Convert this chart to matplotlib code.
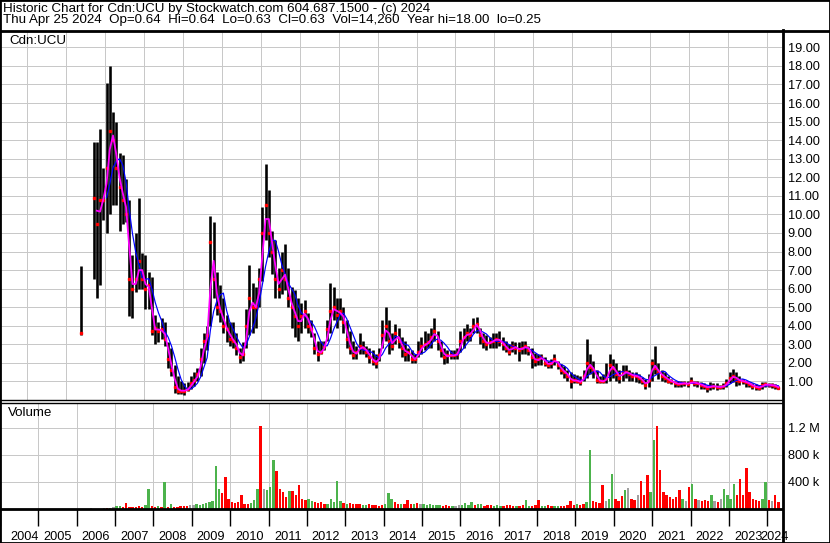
import matplotlib
matplotlib.use("Agg")
import matplotlib.pyplot as plt
from matplotlib.lines import Line2D
from matplotlib.patches import Rectangle
import numpy as np
import pandas as pd

nan = np.nan

# Monthly bars, May 2006 .. Apr 2024
first_month = "2006-05"
last_month = "2024-04"

high = [
    # 2006 May-Dec
    7.2, nan, nan, nan, 13.9, 13.9, 14.6, 12.5,
    # 2007
    17.1, 18.0, 15.5, 15.0, 13.3, 13.2, 11.9, 10.8, 7.8, 9.0, 10.9, 7.9,
    # 2008
    7.8, 6.9, 6.6, 4.6, 4.2, 4.4, 4.2, 3.1, 2.8, 1.9, 1.3, 1.05,
    # 2009
    0.9, 0.95, 1.3, 1.5, 1.7, 2.8, 3.6, 4.0, 9.9, 9.6, 6.9, 6.2,
    # 2010
    5.5, 4.6, 4.2, 4.2, 3.6, 2.8, 3.1, 4.9, 7.3, 6.3, 6.1, 7.1,
    # 2011
    10.4, 12.7, 11.3, 9.1, 8.6, 7.1, 8.0, 8.4, 7.1, 6.1, 5.9, 5.5,
    # 2012
    5.2, 5.4, 4.7, 4.3, 3.6, 3.2, 3.2, 3.2, 4.3, 6.3, 6.1, 5.5,
    # 2013
    5.5, 5.0, 4.3, 3.7, 3.2, 2.9, 3.6, 3.2, 2.9, 2.8, 2.7, 2.5,
    # 2014
    2.8, 4.3, 5.0, 4.3, 3.6, 4.1, 3.9, 3.4, 3.2, 2.8, 2.7, 2.5,
    # 2015
    3.2, 3.4, 3.7, 3.6, 3.9, 4.4, 3.7, 3.2, 2.8, 2.7, 2.7, 2.7,
    # 2016
    2.8, 3.7, 3.9, 4.1, 3.9, 4.4, 4.45, 3.9, 3.6, 3.5, 3.4, 3.6,
    # 2017
    3.6, 3.7, 3.4, 3.2, 3.0, 3.2, 3.1, 3.1, 3.2, 3.2, 2.9, 2.8,
    # 2018
    2.55, 2.5, 2.5, 2.3, 2.1, 2.2, 2.5, 2.1, 1.95, 1.85, 1.6, 1.5,
    # 2019
    1.4, 1.35, 1.3, 1.6, 3.3, 2.5, 2.1, 1.6, 1.3, 1.4, 2.0, 2.5,
    # 2020
    2.2, 2.0, 1.6, 1.9, 1.9, 1.6, 1.5, 1.5, 1.4, 1.25, 1.15, 1.4,
    # 2021
    2.2, 2.9, 2.0, 1.6, 1.5, 1.3, 1.15, 1.05, 1.05, 1.05, 1.05, 1.05,
    # 2022
    1.25, 1.05, 1.05, 0.95, 0.9, 0.8, 0.95, 0.9, 0.9, 0.8, 0.9, 1.15,
    # 2023
    1.5, 1.65, 1.5, 1.3, 1.15, 1.05, 0.95, 0.9, 0.85, 0.8, 0.95, 0.95,
    # 2024 Jan-Apr
    0.9, 0.9, 0.85, 0.75,
]

low = [
    3.5, nan, nan, nan, 6.5, 5.5, 6.2, 9.7,
    9.0, 10.0, 10.5, 10.5, 9.1, 9.5, 9.6, 4.5, 4.4, 5.8, 6.0, 6.0,
    4.9, 4.9, 3.5, 3.0, 3.1, 3.3, 2.9, 1.7, 1.3, 0.4, 0.35, 0.3,
    0.25, 0.5, 0.6, 0.75, 1.0, 1.3, 2.0, 2.7, 4.0, 5.5, 4.6, 4.2,
    3.6, 3.1, 2.9, 2.8, 2.4, 2.0, 2.1, 2.8, 3.5, 3.6, 3.9, 5.0,
    6.4, 8.6, 7.7, 6.8, 5.5, 5.5, 5.7, 5.9, 5.0, 3.9, 3.4, 3.2,
    3.6, 3.9, 3.6, 3.4, 2.5, 2.1, 2.5, 2.7, 3.2, 3.6, 4.3, 3.9,
    4.3, 3.6, 2.8, 2.5, 2.2, 2.2, 2.5, 2.5, 2.3, 2.0, 1.9, 1.7,
    2.1, 2.8, 3.2, 2.5, 2.7, 3.0, 2.8, 2.3, 2.1, 2.1, 2.0, 2.0,
    2.3, 2.5, 2.7, 2.8, 2.8, 3.2, 2.7, 2.3, 1.95, 2.0, 2.2, 2.2,
    2.2, 2.6, 2.8, 3.2, 3.2, 3.6, 3.6, 3.0, 2.8, 2.7, 2.8, 2.8,
    2.8, 2.9, 2.7, 2.6, 2.4, 2.6, 2.5, 2.1, 2.5, 2.5, 2.4, 1.75,
    1.85, 1.9, 1.9, 1.85, 1.7, 1.75, 1.9, 1.65, 1.4, 1.2, 1.05, 0.62,
    0.9, 0.9, 0.8, 1.05, 1.2, 1.4, 1.2, 0.9, 0.9, 0.9, 0.9, 1.05,
    1.2, 1.05, 0.9, 1.05, 1.2, 1.05, 1.05, 0.95, 0.9, 0.85, 0.6, 0.7,
    1.05, 1.4, 1.15, 1.05, 0.95, 0.9, 0.85, 0.7, 0.7, 0.7, 0.75, 0.7,
    0.9, 0.75, 0.7, 0.6, 0.6, 0.45, 0.55, 0.6, 0.55, 0.6, 0.6, 0.7,
    0.9, 0.95, 0.75, 0.8, 0.85, 0.7, 0.7, 0.6, 0.55, 0.55, 0.6, 0.7,
    0.7, 0.65, 0.6, 0.6,
]

close = [
    3.6, nan, nan, nan, 10.9, 9.5, 10.8, 10.8,
    12.5, 14.5, 14.0, 12.5, 11.5, 10.8, 10.0, 6.5, 6.0, 6.5, 7.5, 6.5,
    6.0, 6.2, 3.7, 3.9, 3.7, 3.8, 3.3, 2.2, 1.6, 0.7, 0.5, 0.5,
    0.5, 0.6, 0.9, 1.1, 1.4, 2.2, 3.2, 3.5, 8.5, 6.5, 5.0, 4.8,
    4.0, 3.8, 3.3, 3.2, 2.8, 2.3, 2.5, 4.0, 5.5, 5.0, 5.0, 6.5,
    9.0, 10.5, 9.0, 8.0, 6.5, 6.0, 7.0, 6.5, 5.5, 5.0, 4.5, 4.0,
    4.5, 4.8, 4.0, 3.8, 2.8, 2.5, 2.6, 2.9, 3.8, 4.8, 5.0, 4.6,
    4.8, 4.2, 3.3, 2.8, 2.4, 2.6, 2.9, 2.8, 2.6, 2.3, 2.1, 2.0,
    2.4, 3.5, 4.0, 3.2, 2.9, 3.6, 3.2, 2.8, 2.5, 2.6, 2.2, 2.2,
    2.6, 2.9, 3.0, 3.1, 3.4, 3.7, 3.2, 2.7, 2.3, 2.4, 2.4, 2.4,
    2.5, 3.2, 3.4, 3.6, 3.5, 4.0, 4.1, 3.5, 3.2, 3.0, 3.1, 3.2,
    3.3, 3.2, 3.0, 2.8, 2.6, 2.9, 2.8, 2.7, 2.8, 2.9, 2.7, 2.3,
    2.1, 2.2, 2.3, 2.0, 1.9, 2.0, 2.2, 1.9, 1.6, 1.5, 1.3, 1.0,
    1.1, 1.0, 0.95, 1.3, 2.0, 1.8, 1.6, 1.1, 1.0, 1.0, 1.2, 1.9,
    1.7, 1.4, 1.2, 1.5, 1.5, 1.4, 1.3, 1.3, 1.2, 1.0, 0.8, 1.1,
    2.0, 1.7, 1.5, 1.3, 1.2, 1.05, 1.0, 0.9, 0.85, 0.9, 0.9, 0.85,
    1.0, 0.9, 0.9, 0.8, 0.75, 0.65, 0.75, 0.75, 0.7, 0.7, 0.75, 0.9,
    1.2, 1.3, 1.1, 1.05, 1.0, 0.95, 0.85, 0.75, 0.7, 0.65, 0.8, 0.85,
    0.8, 0.8, 0.75, 0.63,
]

# largest single-bar volume seen in each month, thousands of shares
volume_k = [
    10, 0, 0, 0, 15, 20, 20, 25,
    40, 45, 30, 95, 30, 35, 25, 40, 30, 60, 300, 40,
    30, 40, 25, 405, 30, 70, 30, 35, 40, 40, 50, 60,
    60, 70, 60, 80, 90, 100, 120, 640, 300, 230, 480, 150,
    100, 90, 110, 200, 80, 70, 90, 130, 300, 1230, 300, 280,
    330, 720, 560, 300, 250, 180, 270, 270, 200, 355, 150, 130,
    150, 120, 100, 90, 100, 80, 70, 150, 100, 420, 120, 90,
    80, 90, 70, 80, 70, 60, 60, 70, 60, 60, 50, 60,
    80, 240, 150, 100, 80, 70, 70, 130, 70, 80, 90, 80,
    70, 60, 70, 60, 60, 60, 50, 60, 50, 50, 40, 60,
    60, 90, 60, 100, 60, 80, 70, 50, 60, 60, 50, 60,
    50, 50, 60, 60, 50, 50, 50, 60, 130, 50, 50, 60,
    130, 50, 50, 60, 50, 40, 50, 50, 50, 60, 120, 60,
    70, 60, 80, 100, 870, 120, 100, 90, 355, 120, 150, 520,
    150, 120, 190, 280, 310, 150, 130, 200, 415, 200, 500, 250,
    1020, 1230, 580, 250, 200, 180, 150, 180, 285, 150, 120, 330,
    370, 150, 140, 120, 140, 120, 200, 120, 100, 150, 300, 200,
    150, 365, 200, 440, 200, 600, 250, 150, 130, 120, 150, 395,
    130, 120, 200, 100,
]

years = list(range(2004, 2025))
price_ticks = list(range(1, 20))
vol_ticks = [400_000, 800_000, 1_200_000]
vol_labels = ["400 k", "800 k", "1.2 M"]

header1 = "Historic Chart for Cdn:UCU by Stockwatch.com 604.687.1500 - (c) 2024"
header2 = ("Thu Apr 25 2024  Op=0.64  Hi=0.64  Lo=0.63  Cl=0.63  Vol=14,260  "
           "Year hi=18.00  lo=0.25")

plt.rcParams["font.family"] = ["Liberation Sans", "DejaVu Sans"]

months = pd.period_range(first_month, last_month, freq="M")
df = pd.DataFrame({"high": high, "low": low, "close": close,
                   "volume": np.array(volume_k) * 1000.0})
df["t"] = months.year + (months.month - 0.5) / 12
# moving averages of the close, as the chart draws them
df["ma_short"] = df["close"].rolling(2, min_periods=2).mean()
df["ma_long"] = df["close"].rolling(5, min_periods=5).mean()
chg = df["close"].diff()
df["vcolor"] = np.where(chg > 0, "#4cb34c", np.where(chg < 0, "#ff0000", "#a0a0a0"))

W, H = 830, 543
px = 72 / 100  # points per pixel


def rect(x0, y0, x1, y1):
    return [x0 / W, 1 - y1 / H, (x1 - x0) / W, (y1 - y0) / H]


fig = plt.figure(figsize=(W / 100, H / 100), dpi=100)
ax = fig.add_axes(rect(0, 31, 782, 400))
axv = fig.add_axes(rect(0, 403, 782, 509))

x_left = 2005 - 27 / 38.95
x_right = 2005 + (782 - 27) / 38.95
grid_c = "#c8c8c8"

# ---- price panel
for y in price_ticks:
    ax.axhline(y, color=grid_c, lw=1 * px, zorder=0)
for yr in years:
    ax.axvline(yr, color=grid_c, lw=1 * px, zorder=0)

ax.vlines(df["t"], df["low"], df["high"], color="black", lw=2.6 * px, zorder=2)
ax.plot(df["t"], df["close"], ls="none", marker="s", ms=1.6, color="red", zorder=3)
ax.plot(df["t"], df["ma_long"], color="#0000ff", lw=1.2 * px, zorder=4)
ax.plot(df["t"], df["ma_short"], color="#ff00ff", lw=1.8 * px, zorder=5)

ax.set_xlim(x_left, x_right)
ax.set_ylim(0, 19.88)
ax.set_xticks([])
ax.yaxis.tick_right()
ax.set_yticks(price_ticks)
ax.set_yticklabels([f"{v:.2f}" for v in price_ticks])
ax.tick_params(axis="y", length=0, pad=4, labelsize=9.2)
for s in ["left", "top", "right"]:
    ax.spines[s].set_visible(False)
ax.spines["bottom"].set_linewidth(1.4 * px)
fig.text(9 / W, 1 - 41 / H, "Cdn:UCU", fontsize=9.6, va="center")

# ---- volume panel
for y in vol_ticks:
    axv.axhline(y, color=grid_c, lw=1 * px, zorder=0)
for yr in years:
    axv.axvline(yr, color=grid_c, lw=1 * px, zorder=0)
axv.bar(df["t"], df["volume"], width=0.75 / 12, color=df["vcolor"], zorder=2)
axv.set_xlim(x_left, x_right)
axv.set_ylim(0, 1_570_000)
axv.yaxis.tick_right()
axv.set_yticks(vol_ticks)
axv.set_yticklabels(vol_labels)
axv.tick_params(axis="y", length=0, pad=4, labelsize=9.2)

# year boundaries as tick marks, year names between them
axv.set_xticks(years)
axv.set_xticklabels([])
axv.tick_params(axis="x", which="major", direction="out", length=17 * px,
                width=1.4 * px, color="black")
label_pos = [min(max(yr + 0.5, x_left + 0.33), x_right - 0.2) for yr in years]
axv.set_xticks(label_pos, minor=True)
axv.set_xticklabels([str(yr) for yr in years], minor=True)
axv.tick_params(axis="x", which="minor", length=0, pad=15.5, labelsize=9.2)
for s in ["left", "right"]:
    axv.spines[s].set_visible(False)
axv.spines["top"].set_linewidth(1.4 * px)
axv.spines["bottom"].set_linewidth(2.8 * px)
fig.text(8 / W, 1 - 413 / H, "Volume", fontsize=9.6, va="center")

# ---- header and frame
fig.text(3 / W, 1 - 9 / H, header1, fontsize=9.6, va="center")
fig.text(3 / W, 1 - 20 / H, header2, fontsize=9.6, va="center")
fig.add_artist(Line2D([0, 1], [1 - 30.5 / H] * 2, color="black", lw=2.8 * px))
fig.add_artist(Line2D([782.5 / W] * 2, [0, 1 - 30 / H], color="black", lw=2.8 * px))
fig.add_artist(Rectangle((0, 0), 1, 1, transform=fig.transFigure, fill=False,
                         edgecolor="black", lw=2.8 * px))

fig.savefig("out.png", dpi=100, facecolor="white")
